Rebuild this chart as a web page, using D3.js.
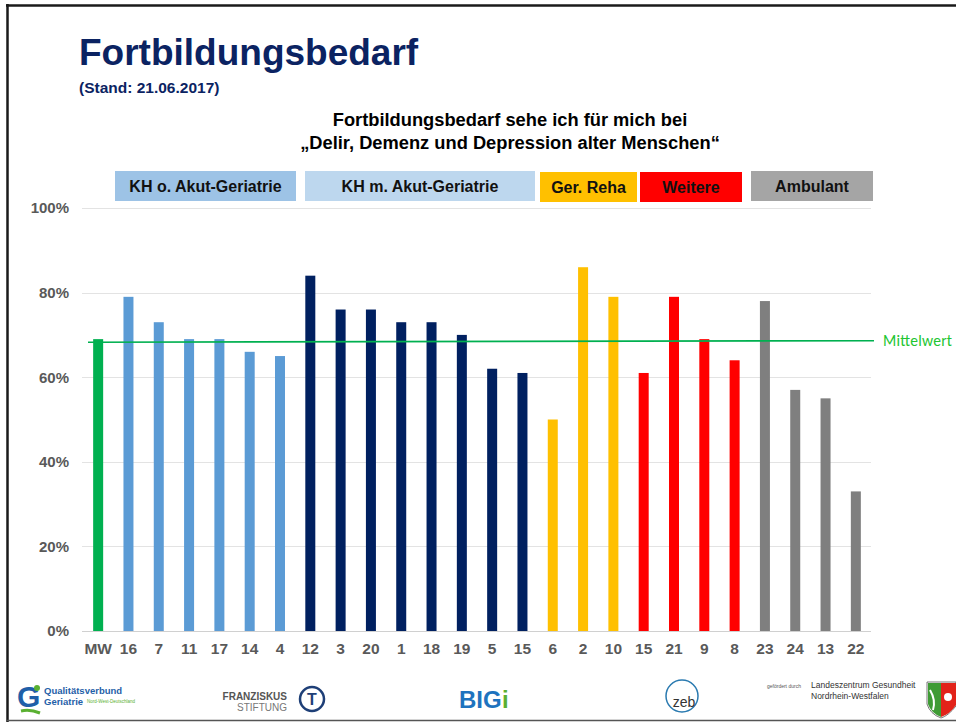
<!DOCTYPE html>
<html><head><meta charset="utf-8">
<script src="https://cdn.jsdelivr.net/npm/d3@7"></script>
<style>html,body{margin:0;padding:0;background:#fff;}svg{display:block;font-family:Arial,"Liberation Sans",sans-serif;}</style>
</head><body>
<script>
// ---- data ----
const categories = ["MW","16","7","11","17","14","4","12","3","20","1","18","19","5","15","6","2","10","15","21","9","8","23","24","13","22"];
const values = [69,79,73,69,69,66,65,84,76,76,73,73,70,62,61,50,86,79,61,79,69,64,78,57,55,33];
const groups = ["MW","KH o.","KH o.","KH o.","KH o.","KH o.","KH o.","KH m.","KH m.","KH m.","KH m.","KH m.","KH m.","KH m.","KH m.","Reha","Reha","Reha","Weitere","Weitere","Weitere","Weitere","Amb","Amb","Amb","Amb"];
const groupKeys = ["MW","KH o.","KH m.","Reha","Weitere","Amb"];
const groupColors = ["#00b050","#5b9bd5","#002060","#ffc000","#ff0000","#7f7f7f"];
const legendLabels = ["KH o. Akut-Geriatrie","KH m. Akut-Geriatrie","Ger. Reha","Weitere","Ambulant"];
const legendColors = ["#9dc3e6","#bdd7ee","#ffc000","#ff0000","#a5a5a5"];
const yTicks = [0,20,40,60,80,100];
const meanValue = 68.28;

// ---- layout ----
const W = 956, H = 722;
const svg = d3.select("body").append("svg").attr("width", W).attr("height", H);
svg.append("rect").attr("width", W).attr("height", H).attr("fill", "#fff");

// frame
svg.append("line").attr("x1",6).attr("x2",W).attr("y1",5.5).attr("y2",5.5).attr("stroke","#1a1a1a").attr("stroke-width",2.5);
svg.append("line").attr("x1",7.5).attr("x2",7.5).attr("y1",4).attr("y2",H).attr("stroke","#1a1a1a").attr("stroke-width",2.5);
svg.append("line").attr("x1",7).attr("x2",W).attr("y1",720.5).attr("y2",720.5).attr("stroke","#555").attr("stroke-width",1.5);

// titles
svg.append("text").attr("x",79).attr("y",65).attr("font-size",37).attr("font-weight","bold").attr("fill","#0b2362").text("Fortbildungsbedarf");
svg.append("text").attr("x",79).attr("y",93).attr("font-size",15.5).attr("font-weight","bold").attr("fill","#0b2362").text("(Stand: 21.06.2017)");
svg.append("text").attr("x",510).attr("y",126).attr("text-anchor","middle").attr("font-size",18.3).attr("font-weight","bold").attr("fill","#000").text("Fortbildungsbedarf sehe ich für mich bei");
svg.append("text").attr("x",510).attr("y",149).attr("text-anchor","middle").attr("font-size",18.3).attr("font-weight","bold").attr("fill","#000").text("„Delir, Demenz und Depression alter Menschen“");

// scales
const x = d3.scaleBand().domain(d3.range(categories.length)).range([83, 871]).paddingInner(0.67).paddingOuter(0.335);
const y = d3.scaleLinear().domain([0, 100]).range([631, 208]);
const color = d3.scaleOrdinal().domain(groupKeys).range(groupColors);

// gridlines
svg.append("g").selectAll("line").data(yTicks).join("line")
  .attr("x1", 82).attr("x2", 871).attr("y1", d => Math.round(y(d)) + 0.5).attr("y2", d => Math.round(y(d)) + 0.5)
  .attr("stroke", d => d === 0 ? "#d0d0d0" : "#e3e3e3").attr("stroke-width", 1.2);

// y axis labels
const yAxis = d3.axisLeft(y).tickValues(yTicks).tickFormat(d => d + "%").tickSize(0).tickPadding(0);
const gy = svg.append("g").attr("transform", "translate(69,0)").call(yAxis);
gy.select(".domain").remove();
gy.selectAll("text").attr("font-size", 15).attr("font-weight", "bold").attr("fill", "#595959").attr("font-family","Arial,'Liberation Sans',sans-serif");

// x axis labels
const xAxis = d3.axisBottom(x).tickFormat(i => categories[i]).tickSize(0).tickPadding(0);
const gx = svg.append("g").attr("transform", "translate(0,643)").call(xAxis);
gx.select(".domain").remove();
gx.selectAll("text").attr("font-size", 15.5).attr("font-weight", "bold").attr("fill", "#595959").attr("font-family","Arial,'Liberation Sans',sans-serif");

// bars
svg.append("g").selectAll("rect").data(values).join("rect")
  .attr("x", (d, i) => x(i)).attr("width", x.bandwidth())
  .attr("y", d => y(d)).attr("height", d => y(0) - y(d))
  .attr("fill", (d, i) => color(groups[i]));

// mean line
svg.append("line").attr("x1", 88).attr("x2", 874).attr("y1", y(meanValue)).attr("y2", y(meanValue) - 1.5)
  .attr("stroke", "#00b050").attr("stroke-width", 1.6);
svg.append("text").attr("x", 883).attr("y", y(meanValue) + 4).attr("font-size", 15.5).attr("fill", "#22c531")
  .attr("font-family","Calibri,Carlito,'Open Sans',sans-serif").attr("textLength", 69).text("Mittelwert");

// legend boxes (layout)
const legendBoxes = [[115,296,171],[305,535,171],[540,637,172],[640,742,172],[751,873,171]];
const lg = svg.append("g");
legendLabels.forEach((lab, i) => {
  const [x0, x1, y0] = legendBoxes[i];
  lg.append("rect").attr("x", x0).attr("y", y0).attr("width", x1 - x0).attr("height", 30).attr("fill", legendColors[i]);
  lg.append("text").attr("x", (x0 + x1) / 2).attr("y", y0 + 21).attr("text-anchor", "middle")
    .attr("font-size", 16).attr("font-weight", "bold").attr("fill", "#111").text(lab);
});

// footer logos (approximations)
const f = svg.append("g");
// Qualitätsverbund Geriatrie
f.append("text").attr("x",17).attr("y",707).attr("font-size",30).attr("font-weight","bold").attr("fill","#1f5fa8").text("G");
f.append("circle").attr("cx",37).attr("cy",688).attr("r",3).attr("fill","#5ab031");
f.append("path").attr("d","M21,711 Q30,709 40,713").attr("stroke","#5ab031").attr("stroke-width",3).attr("fill","none");
f.append("text").attr("x",44).attr("y",694).attr("font-size",9.5).attr("font-weight","bold").attr("fill","#1f5fa8").text("Qualitätsverbund");
f.append("text").attr("x",44).attr("y",705).attr("font-size",9.5).attr("font-weight","bold").attr("fill","#1f5fa8").text("Geriatrie");
f.append("text").attr("x",87).attr("y",703).attr("font-size",4.5).attr("fill","#5ab031").text("Nord-West-Deutschland");
// Franziskus Stiftung
f.append("text").attr("x",287).attr("y",700).attr("text-anchor","end").attr("font-size",10).attr("font-weight","bold").attr("fill","#555").text("FRANZISKUS");
f.append("text").attr("x",287).attr("y",711).attr("text-anchor","end").attr("font-size",10).attr("fill","#777").text("STIFTUNG");
f.append("circle").attr("cx",312).attr("cy",699).attr("r",12).attr("fill","#fff").attr("stroke","#1e3f77").attr("stroke-width",2.5);
f.append("text").attr("x",312).attr("y",705).attr("text-anchor","middle").attr("font-size",16).attr("font-weight","bold").attr("fill","#1e3f77").text("T");
// BIGi
f.append("text").attr("x",459).attr("y",708).attr("font-size",24).attr("font-weight","bold").attr("fill","#1e73be").text("BIG");
f.append("text").attr("x",502).attr("y",708).attr("font-size",24).attr("font-weight","bold").attr("fill","#5ab031").text("i");
// zeb
f.append("circle").attr("cx",682).attr("cy",696).attr("r",16).attr("fill","none").attr("stroke","#2a7ab0").attr("stroke-width",1.5);
f.append("text").attr("x",684).attr("y",707).attr("text-anchor","middle").attr("font-size",14).attr("fill","#333").text("zeb");
// LZG NRW
f.append("text").attr("x",767).attr("y",688).attr("font-size",5).attr("fill","#555").text("gefördert durch");
f.append("text").attr("x",811).attr("y",688).attr("font-size",8.5).attr("fill","#333").text("Landeszentrum Gesundheit");
f.append("text").attr("x",811).attr("y",699).attr("font-size",8.5).attr("fill","#333").text("Nordrhein-Westfalen");
// coat of arms
f.append("path").attr("d","M927,682 L956,682 L956,706 Q948,716 941,718 Q930,714 927,704 Z").attr("fill","#fff").attr("stroke","#555").attr("stroke-width",0.8);
f.append("path").attr("d","M928,683 L941,683 L941,717 Q931,713 928,704 Z").attr("fill","#3f9b35");
f.append("path").attr("d","M930,690 Q936,700 933,710").attr("stroke","#fff").attr("stroke-width",2).attr("fill","none");
f.append("path").attr("d","M941,683 L956,683 L956,705 Q950,714 941,717 Z").attr("fill","#e2231a");
f.append("circle").attr("cx",948).attr("cy",697).attr("r",4).attr("fill","#fff");
</script>
</body></html>
